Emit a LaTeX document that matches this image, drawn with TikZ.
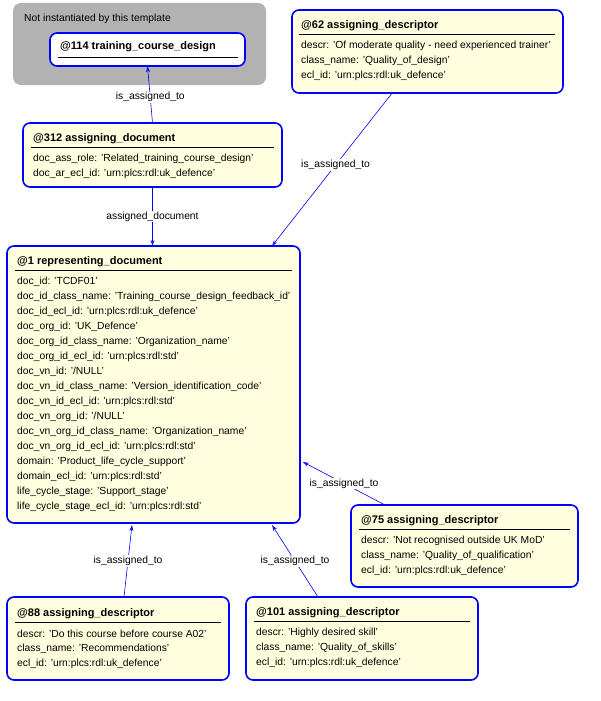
\documentclass[tikz,border=0pt]{standalone}
\usepackage{fontspec}
\setmainfont{Liberation Sans}
\usetikzlibrary{arrows.meta}
\definecolor{boxfill}{HTML}{FFFFE0}
\definecolor{boxline}{HTML}{0000FF}
\begin{document}
\begin{tikzpicture}[x=1pt,y=-1pt,
 box/.style={draw=boxline,fill=boxfill,line width=1.6pt,rounded corners=7pt},
 ttl/.style={anchor=west,font=\fontsize{11}{12}\selectfont\bfseries,inner sep=0},
 txt/.style={anchor=west,font=\fontsize{10.3}{11}\selectfont,inner sep=0},
 lbl/.style={fill=white,font=\fontsize{10.3}{11}\selectfont,inner sep=1pt},
 con/.style={draw=boxline,line width=0.6pt,-{Stealth[length=6pt,width=4pt,open]}}]
\useasboundingbox (0,0) rectangle (601,701);
% grey
\path[fill=black!30,rounded corners=8pt] (13,3) rectangle (266,85);
\node[txt] (grey) at (24,19) {Not instantiated by this template};
\draw[box,fill=white] (50,33) rectangle (245,66);
\node (b114) at (147.5,49.5) [minimum width=195pt,minimum height=33pt] {};
\node[ttl] at (60,47) {@114 training\_course\_design};
\draw (58,57) -- (238,57);
% 62
\draw[box] (292,10) rectangle (563,93);
\node (b62) at (427.5,51.5) [minimum width=271pt,minimum height=83pt] {};
\node[ttl] at (301,26) {@62 assigning\_descriptor};
\draw (299,34) -- (555,34);
\node[txt] at (301,46) {descr: 'Of moderate quality - need experienced trainer'};
\node[txt] at (301,61) {class\_name: 'Quality\_of\_design'};
\node[txt] at (301,76) {ecl\_id: 'urn:plcs:rdl:uk\_defence'};
% 312
\draw[box] (23,123) rectangle (282,187);
\node (b312) at (152.5,155) [minimum width=259pt,minimum height=64pt] {};
\node[ttl] at (33,139) {@312 assigning\_document};
\draw (31,147) -- (274,147);
\node[txt] at (33,159) {doc\_ass\_role: 'Related\_training\_course\_design'};
\node[txt] at (33,174) {doc\_ar\_ecl\_id: 'urn:plcs:rdl:uk\_defence'};
% 1
\draw[box] (7,246) rectangle (300,523);
\node (b1) at (153.5,384.5) [minimum width=293pt,minimum height=277pt] {};
\node[ttl] at (17,262) {@1 representing\_document};
\draw (15,270) -- (292,270);
\foreach \t [count=\i from 0] in {doc\_id: 'TCDF01',
 doc\_id\_class\_name: 'Training\_course\_design\_feedback\_id',
 doc\_id\_ecl\_id: 'urn:plcs:rdl:uk\_defence',
 doc\_org\_id: 'UK\_Defence',
 doc\_org\_id\_class\_name: 'Organization\_name',
 doc\_org\_id\_ecl\_id: 'urn:plcs:rdl:std',
 doc\_vn\_id: '/NULL',
 doc\_vn\_id\_class\_name: 'Version\_identification\_code',
 doc\_vn\_id\_ecl\_id: 'urn:plcs:rdl:std',
 doc\_vn\_org\_id: '/NULL',
 doc\_vn\_org\_id\_class\_name: 'Organization\_name',
 doc\_vn\_org\_id\_ecl\_id: 'urn:plcs:rdl:std',
 domain: 'Product\_life\_cycle\_support',
 domain\_ecl\_id: 'urn:plcs:rdl:std',
 life\_cycle\_stage: 'Support\_stage',
 life\_cycle\_stage\_ecl\_id: 'urn:plcs:rdl:std'}
 \node[txt] at (17,282+15*\i) {\t};
% 75
\draw[box] (351,505) rectangle (578,587);
\node (b75) at (464.5,546) [minimum width=227pt,minimum height=82pt] {};
\node[ttl] at (361,521) {@75 assigning\_descriptor};
\draw (359,529) -- (570,529);
\node[txt] at (361,541) {descr: 'Not recognised outside UK MoD'};
\node[txt] at (361,556) {class\_name: 'Quality\_of\_qualification'};
\node[txt] at (361,571) {ecl\_id: 'urn:plcs:rdl:uk\_defence'};
% 88
\draw[box] (7,597) rectangle (229,680);
\node (b88) at (118,638.5) [minimum width=222pt,minimum height=83pt] {};
\node[ttl] at (17,614) {@88 assigning\_descriptor};
\draw (15,622) -- (221,622);
\node[txt] at (17,634) {descr: 'Do this course before course A02'};
\node[txt] at (17,649) {class\_name: 'Recommendations'};
\node[txt] at (17,664) {ecl\_id: 'urn:plcs:rdl:uk\_defence'};
% 101
\draw[box] (246,597) rectangle (478,680);
\node (b101) at (362,638.5) [minimum width=232pt,minimum height=83pt] {};
\node[ttl] at (256,613) {@101 assigning\_descriptor};
\draw (254,621) -- (470,621);
\node[txt] at (256,633) {descr: 'Highly desired skill'};
\node[txt] at (256,648) {class\_name: 'Quality\_of\_skills'};
\node[txt] at (256,663) {ecl\_id: 'urn:plcs:rdl:uk\_defence'};
% connectors
\draw[con] (b312.north) -- node[lbl,pos=0.45] {is\_assigned\_to} (b114.south);
\draw[con] (b312.south) -- node[lbl] {assigned\_document} (b1.north -| b312.south);
\draw[con] (b62.south -| 392,0) -- node[lbl,pos=0.47] {is\_assigned\_to} (272,246);
\draw[con] (385,505) -- node[lbl,pos=0.5] {is\_assigned\_to} (303,462);
\draw[con] (124,597) -- node[lbl,pos=0.5] {is\_assigned\_to} (132,525);
\draw[con] (318,597) -- node[lbl,pos=0.5] {is\_assigned\_to} (272,525);
\end{tikzpicture}
\end{document}
